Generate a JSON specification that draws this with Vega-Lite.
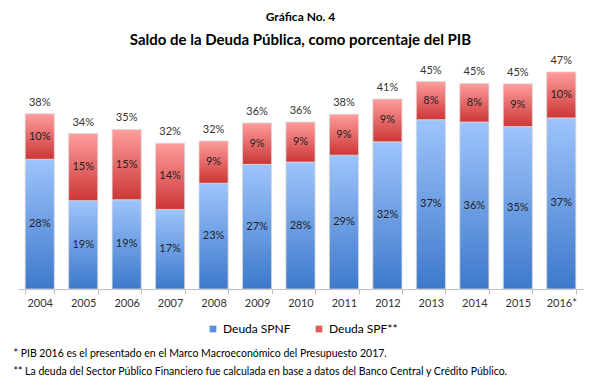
{
  "$schema": "https://vega.github.io/schema/vega-lite/v6.json",
  "background": "white",
  "padding": {"left": 13, "right": 18, "top": 10, "bottom": 5},
  "width": 565,
  "height": 230,
  "config": {
    "font": "Lato",
    "view": {"stroke": null}
  },
  "title": {
    "text": "Gráfica No. 4",
    "subtitle": "Saldo de la Deuda Pública, como porcentaje del PIB",
    "fontSize": 12,
    "fontWeight": "bold",
    "color": "#000000",
    "subtitleFontSize": 15,
    "subtitleFontWeight": "bold",
    "subtitleColor": "#000000",
    "subtitlePadding": 9,
    "anchor": "middle",
    "offset": 6
  },
  "data": {
    "values": [
      {"anio": "2004", "serie": "Deuda SPNF", "valor": 0.282},
      {"anio": "2004", "serie": "Deuda SPF**", "valor": 0.099},
      {"anio": "2005", "serie": "Deuda SPNF", "valor": 0.192},
      {"anio": "2005", "serie": "Deuda SPF**", "valor": 0.146},
      {"anio": "2006", "serie": "Deuda SPNF", "valor": 0.194},
      {"anio": "2006", "serie": "Deuda SPF**", "valor": 0.153},
      {"anio": "2007", "serie": "Deuda SPNF", "valor": 0.173},
      {"anio": "2007", "serie": "Deuda SPF**", "valor": 0.144},
      {"anio": "2008", "serie": "Deuda SPNF", "valor": 0.230},
      {"anio": "2008", "serie": "Deuda SPF**", "valor": 0.092},
      {"anio": "2009", "serie": "Deuda SPNF", "valor": 0.271},
      {"anio": "2009", "serie": "Deuda SPF**", "valor": 0.090},
      {"anio": "2010", "serie": "Deuda SPNF", "valor": 0.276},
      {"anio": "2010", "serie": "Deuda SPF**", "valor": 0.087},
      {"anio": "2011", "serie": "Deuda SPNF", "valor": 0.291},
      {"anio": "2011", "serie": "Deuda SPF**", "valor": 0.089},
      {"anio": "2012", "serie": "Deuda SPNF", "valor": 0.320},
      {"anio": "2012", "serie": "Deuda SPF**", "valor": 0.093},
      {"anio": "2013", "serie": "Deuda SPNF", "valor": 0.368},
      {"anio": "2013", "serie": "Deuda SPF**", "valor": 0.083},
      {"anio": "2014", "serie": "Deuda SPNF", "valor": 0.363},
      {"anio": "2014", "serie": "Deuda SPF**", "valor": 0.084},
      {"anio": "2015", "serie": "Deuda SPNF", "valor": 0.353},
      {"anio": "2015", "serie": "Deuda SPF**", "valor": 0.093},
      {"anio": "2016*", "serie": "Deuda SPNF", "valor": 0.372},
      {"anio": "2016*", "serie": "Deuda SPF**", "valor": 0.100}
    ]
  },
  "transform": [
    {"stack": "valor", "groupby": ["anio"], "sort": [{"field": "serie", "order": "descending"}], "as": ["v0", "v1"]}
  ],
  "encoding": {
    "x": {
      "field": "anio",
      "type": "nominal",
      "sort": null,
      "scale": {"paddingInner": 0.33, "paddingOuter": 0.165},
      "axis": {
        "title": [
          "* PIB 2016 es el presentado en el Marco Macroeconómico del Presupuesto 2017.",
          "** La deuda del Sector Público Financiero fue calculada en base a datos del Banco Central y Crédito Público."
        ],
        "titleFontSize": 10.5,
        "titleFontWeight": "normal",
        "titleColor": "#000000",
        "titleLineHeight": 18,
        "titleAlign": "left",
        "titleAnchor": "start",
        "titleX": -5,
        "titlePadding": 40,
        "labelAngle": 0,
        "labelFontSize": 11,
        "labelColor": "#333333",
        "labelPadding": 3,
        "domainColor": "#bfbfbf",
        "tickColor": "#bfbfbf",
        "tickBand": "extent",
        "tickSize": 5
      }
    }
  },
  "layer": [
    {
      "transform": [{"filter": "datum.serie === 'Deuda SPNF'"}],
      "mark": {
        "type": "bar",
        "stroke": "#d9d9d9",
        "strokeWidth": 0.8,
        "color": {"gradient": "linear", "x1": 0, "y1": 0, "x2": 0, "y2": 1, "stops": [{"offset": 0, "color": "#9ec4fc"}, {"offset": 1, "color": "#3d79cb"}]}
      },
      "encoding": {
        "y": {"field": "v0", "type": "quantitative", "scale": {"domain": [0, 0.5]}, "axis": null},
        "y2": {"field": "v1"}
      }
    },
    {
      "transform": [{"filter": "datum.serie === 'Deuda SPF**'"}],
      "mark": {
        "type": "bar",
        "stroke": "#d9d9d9",
        "strokeWidth": 0.8,
        "color": {"gradient": "linear", "x1": 0, "y1": 0, "x2": 0, "y2": 1, "stops": [{"offset": 0, "color": "#ff9d9d"}, {"offset": 1, "color": "#cc3636"}]}
      },
      "encoding": {
        "y": {"field": "v0", "type": "quantitative"},
        "y2": {"field": "v1"}
      }
    },
    {
      "mark": {"type": "square", "opacity": 0, "size": 1},
      "encoding": {
        "y": {"field": "v1", "type": "quantitative"},
        "color": {
          "field": "serie",
          "type": "nominal",
          "scale": {"domain": ["Deuda SPNF", "Deuda SPF**"], "range": ["#5a8fdc", "#e35d5d"]},
          "legend": {
            "title": null,
            "orient": "none",
            "legendX": 189,
            "legendY": 264,
            "direction": "horizontal",
            "symbolType": "square",
            "symbolSize": 45,
            "symbolOpacity": 1,
            "symbolStrokeWidth": 0,
            "labelFontSize": 12,
            "labelColor": "#000000",
            "columnPadding": 22
          }
        }
      }
    },
    {
      "mark": {"type": "text", "fontSize": 11, "color": "#222222"},
      "encoding": {
        "y": {"field": "valor", "type": "quantitative", "stack": "zero", "bandPosition": 0.5},
        "order": {"field": "serie", "sort": "descending"},
        "text": {"field": "valor", "type": "quantitative", "format": ".0%"}
      }
    },
    {
      "mark": {"type": "text", "fontSize": 11, "color": "#333333", "dy": -11},
      "encoding": {
        "y": {"aggregate": "sum", "field": "valor", "type": "quantitative"},
        "text": {"aggregate": "sum", "field": "valor", "type": "quantitative", "format": ".0%"}
      }
    }
  ]
}
